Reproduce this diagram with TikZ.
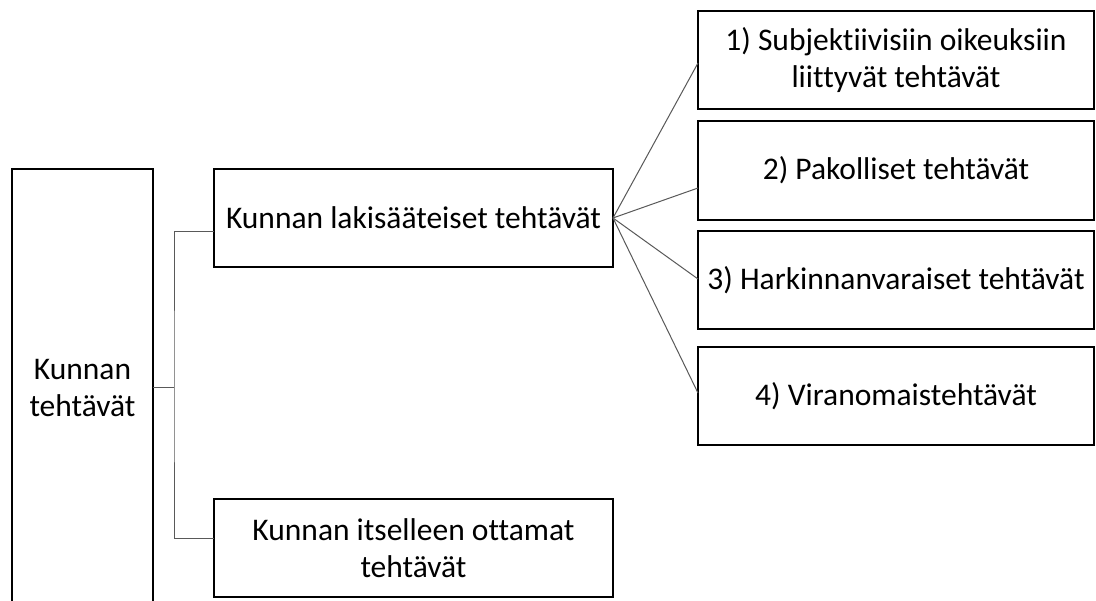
\documentclass[tikz,border=0pt]{standalone}
\usepackage{fontspec}
\setmainfont[Ligatures=NoCommon]{Carlito}
\begin{document}
\begin{tikzpicture}[x=1pt,y=-1pt,
  box/.style={draw=black,line width=1.6pt,fill=white,inner sep=0pt,outer sep=0pt,align=center,
    font=\fontsize{31.5}{37.5}\selectfont,text=black},
  conn/.style={draw=black!65,line width=1pt}]
\useasboundingbox[fill=white] (0,0) rectangle (1096,601);
\node[box,minimum width=141,minimum height=438] (root) at (82.5,388) {Kunnan\\tehtävät};
\node[box,minimum width=399,minimum height=98] (law) at (413.5,218) {Kunnan lakisääteiset tehtävät};
\node[box,minimum width=399,minimum height=98] (own) at (413.5,548) {Kunnan itselleen ottamat\\tehtävät};
\node[box,minimum width=396,minimum height=98] (b1) at (896,60) {1) Subjektiivisiin oikeuksiin\\liittyvät tehtävät};
\node[box,minimum width=396,minimum height=99] (b2) at (896,170.5) {2) Pakolliset tehtävät};
\node[box,minimum width=396,minimum height=98] (b3) at (896,280) {3) Harkinnanvaraiset tehtävät};
\node[box,minimum width=396,minimum height=98] (b4) at (896,396) {4) Viranomaistehtävät};
\coordinate (j) at (174,388);
\draw[conn] (root.east) -- (j);
\draw[conn] ([yshift=-14pt]law.west) -| (j) |- ([yshift=9pt]own.west);
\draw[conn] (law.east) -- ([yshift=-3pt]b1.west);
\draw[conn] (law.east) -- ([yshift=-17.5pt]b2.west);
\draw[conn] (law.east) -- ([yshift=1pt]b3.west);
\draw[conn] (law.east) -- ([yshift=3pt]b4.west);
\end{tikzpicture}
\end{document}
